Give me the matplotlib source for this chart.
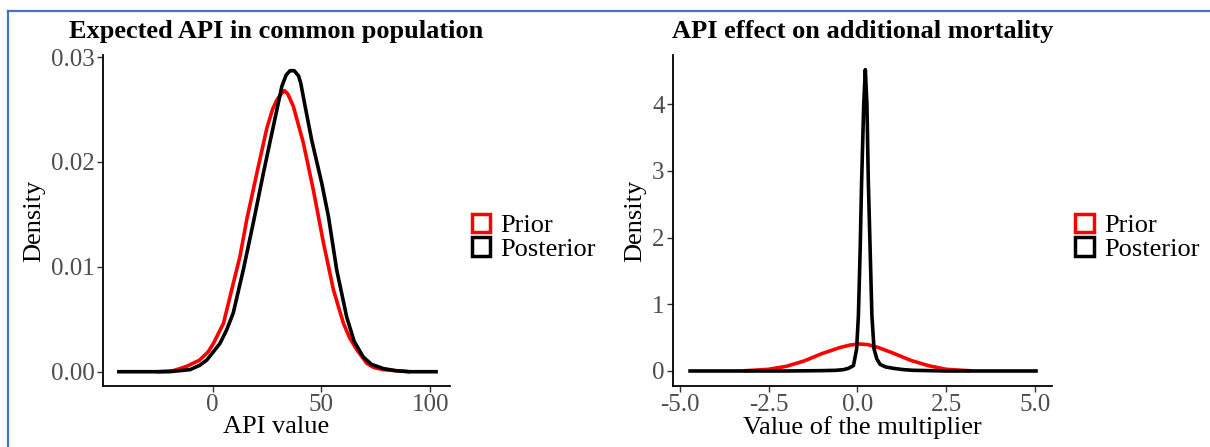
import matplotlib.pyplot as plt
from matplotlib.patches import Patch
from matplotlib.lines import Line2D

plt.rcParams['font.family'] = ['Liberation Serif', 'DejaVu Serif']

# Left panel: expected API in common population
api_prior_x = [-25, -18, -12, -6, -2, 0.4, 5, 9.5, 12.6, 15.7, 20.3, 24.9, 27.5, 29.5, 31.5,
               33, 34.5, 37.1, 41.7, 46.3, 50.9, 55.5, 60.1, 63, 66.2, 70.8, 74, 78.4, 84, 90]
api_prior_y = [0, 0.0001, 0.0005, 0.0011, 0.0019, 0.0027, 0.0046, 0.0084, 0.011, 0.0145,
               0.0189, 0.0232, 0.0250, 0.0259, 0.0265, 0.0268, 0.0265, 0.0253, 0.0218, 0.0173,
               0.0123, 0.0078, 0.0046, 0.0032, 0.0021, 0.0008, 0.0004, 0.0002, 0.0001, 0]
api_post_x = [-43, -30, -20, -15, -10.3, -6, -2.7, 0, 3.4, 6.5, 9.5, 14.1, 18.7, 23.3, 27.9,
              31.8, 33.8, 35.6, 37.5, 39.5, 40.5, 42.5, 45.5, 50.1, 53.2, 57, 61.6, 65, 69.2,
              73, 78.4, 84, 90.7, 102.6]
api_post_y = [0, 0, 0, 0.0001, 0.0002, 0.0006, 0.0011, 0.0018, 0.0027, 0.004, 0.0056, 0.0097,
              0.0142, 0.0189, 0.0234, 0.0272, 0.0283, 0.0287, 0.0287, 0.0282, 0.0275, 0.0253,
              0.0221, 0.018, 0.0148, 0.0097, 0.0052, 0.0029, 0.0014, 0.0007, 0.0003, 0.0001, 0, 0]

# Right panel: API effect on additional mortality
mult_prior_x = [-3.15, -2.5, -2.0, -1.5, -1.0, -0.5, -0.2, 0.05, 0.3, 0.6, 1.0, 1.5, 2.0, 2.5, 3.15]
mult_prior_y = [0.004, 0.025, 0.07, 0.15, 0.26, 0.35, 0.39, 0.405, 0.395, 0.35, 0.27, 0.16,
                0.08, 0.025, 0.004]
mult_post_x = [-4.71, -2, -1, -0.6, -0.39, -0.25, -0.11, -0.02, 0.03, 0.08, 0.12, 0.18, 0.225,
               0.27, 0.31, 0.36, 0.41, 0.47, 0.55, 0.64, 0.8, 1.01, 1.3, 1.57, 2.5, 5.03]
mult_post_y = [0, 0, 0.005, 0.01, 0.02, 0.04, 0.08, 0.33, 0.83, 1.83, 2.83, 4.0, 4.52, 4.0,
               2.83, 1.83, 0.83, 0.33, 0.18, 0.1, 0.06, 0.04, 0.02, 0.01, 0, 0]

series_labels = ['Prior', 'Posterior']
series_colors = ['#FF0000', '#000000']

fig = plt.figure(figsize=(12.1, 4.47), dpi=100)
ax1 = fig.add_axes([0.0851, 0.1365, 0.2868, 0.7405])
ax2 = fig.add_axes([0.5562, 0.1365, 0.3132, 0.7405])

panels = [
    (ax1, api_prior_x, api_prior_y, api_post_x, api_post_y,
     'Expected API in common population', 'API value',
     (-50.3, 109.0), (-0.00136, 0.0302), [0, 50, 100], ['0', '50', '100'],
     [0, 0.01, 0.02, 0.03], ['0.00', '0.01', '0.02', '0.03']),
    (ax2, mult_prior_x, mult_prior_y, mult_post_x, mult_post_y,
     'API effect on additional mortality', 'Value of the multiplier',
     (-5.19, 5.48), (-0.225, 4.74), [-5, -2.5, 0, 2.5, 5], ['-5.0', '-2.5', '0.0', '2.5', '5.0'],
     [0, 1, 2, 3, 4], ['0', '1', '2', '3', '4']),
]

for ax, px, py, qx, qy, title, xlabel, xlim, ylim, xt, xtl, yt, ytl in panels:
    ax.plot(px, py, color=series_colors[0], lw=2.6, solid_joinstyle='round')
    ax.plot(qx, qy, color=series_colors[1], lw=2.6, solid_joinstyle='round')
    ax.set_xlim(*xlim)
    ax.set_ylim(*ylim)
    ax.set_xticks(xt)
    ax.set_xticklabels(xtl)
    ax.set_yticks(yt)
    ax.set_yticklabels(ytl)
    for s in ['top', 'right']:
        ax.spines[s].set_visible(False)
    for s in ['left', 'bottom']:
        ax.spines[s].set_linewidth(1.3)
    ax.tick_params(labelsize=18, colors='#4D4D4D', length=4, width=1.0, pad=2)
    ax.tick_params(color='#333333')
    ax.set_title(title, fontsize=19, fontweight='bold', pad=12)
    ax.set_xlabel(xlabel, fontsize=19, labelpad=0)
    ax.set_ylabel('Density', fontsize=19, labelpad=4)
    handles = [Patch(facecolor='none', edgecolor=c, linewidth=2.5) for c in series_colors]
    ax.legend(handles, series_labels, loc='center left', bbox_to_anchor=(1.062, 0.45),
              frameon=False, fontsize=19, handlelength=0.7, handleheight=0.7,
              handletextpad=0.4, labelspacing=0.0, borderpad=0, borderaxespad=0)

# blue frame of the screenshot
fig.add_artist(Line2D([8 / 1210, 1], [1 - 11 / 447, 1 - 11 / 447], color='#4472C4', lw=1.6))
fig.add_artist(Line2D([8 / 1210, 8 / 1210], [0, 1 - 11 / 447], color='#4472C4', lw=1.6))

fig.savefig('out.png', dpi=100)
